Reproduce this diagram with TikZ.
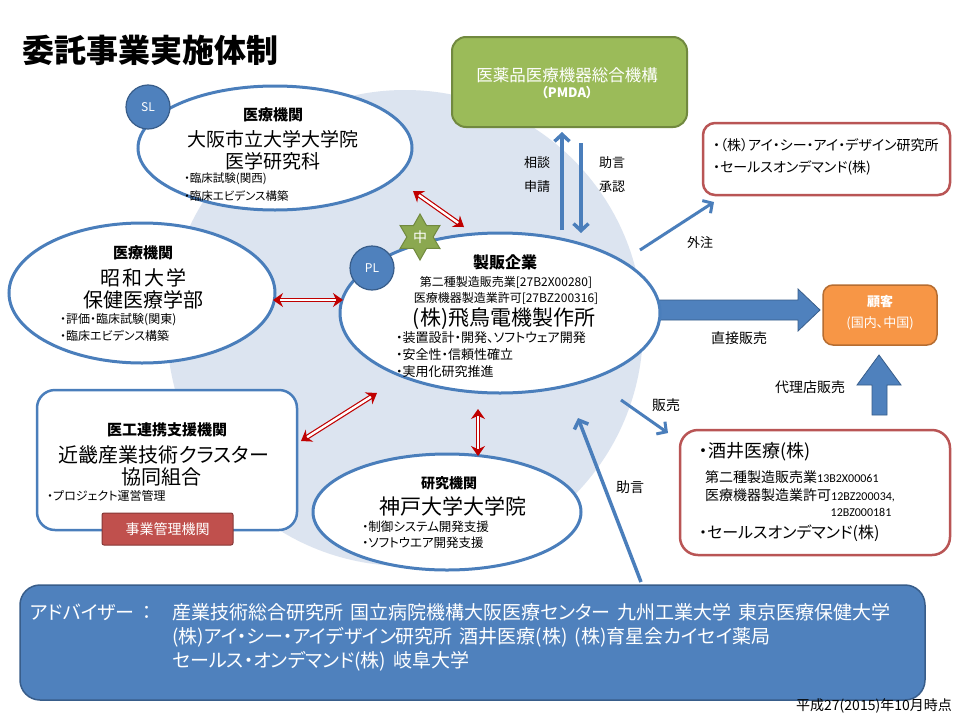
\documentclass[tikz,border=0pt]{standalone}
\usepackage{fontspec}
\setmainfont{Noto Sans CJK JP}[RawFeature=+palt]
\newfontfamily\latinf{Carlito}
\usetikzlibrary{arrows.meta,shapes.geometric}
\definecolor{bgblue}{RGB}{220,228,240}
\definecolor{lineblue}{RGB}{74,126,187}
\definecolor{fillblue}{RGB}{79,129,189}
\definecolor{darkblue}{RGB}{56,93,138}
\definecolor{pgreen}{RGB}{155,187,89}
\definecolor{dgreen}{RGB}{113,137,63}
\definecolor{porange}{RGB}{247,150,70}
\definecolor{dorange}{RGB}{182,109,49}
\definecolor{rose}{RGB}{185,85,85}
\definecolor{arrred}{RGB}{192,0,0}
\definecolor{boxred}{RGB}{192,80,77}
\newcommand\fsz[1]{\fontsize{#1}{#1}\selectfont}
\begin{document}
\begin{tikzpicture}[x=1pt,y=-1pt,
  ell/.style={ellipse, draw=lineblue, line width=3pt, fill=white, inner sep=0pt},
  rbox/.style={rectangle, rounded corners=#1, inner sep=0pt},
  rbox/.default=14pt,
  badge/.style={circle, fill=fillblue, draw=darkblue, line width=1.2pt, minimum size=44pt, inner sep=0pt, text=white, font=\fsz{12}},
  txt/.style={inner sep=0pt, anchor=center},
  ltxt/.style={inner sep=0pt, anchor=west},
  bluearr/.style={draw=lineblue, line width=3.5pt, -{Straight Barb[length=7pt,width=15pt]}},
  redarr/.style={draw=arrred, line width=1.2pt, double=white, double distance=2.4pt,
    {Stealth[length=10pt,width=14pt]}-{Stealth[length=10pt,width=14pt]}},
  blockarr/.style={fill=fillblue, draw=darkblue, line width=0.8pt}
]
\useasboundingbox (0,0) rectangle (960,720);
\fill[white] (0,0) rectangle (960,720);

% background disc
\fill[bgblue] (405,328) circle[radius=238pt];

% title
\node[ltxt] (title) at (22,50) {\fsz{32}\bfseries 委託事業実施体制};

% block arrows (under the ellipse)
\fill[blockarr] (650,300) -- (798,300) -- (798,289) -- (820,310) -- (798,331) -- (798,320) -- (650,320) -- cycle;
\fill[blockarr] (872,415) -- (872,385) -- (857,385) -- (879,355) -- (901,385) -- (887,385) -- (887,415) -- cycle;

% ellipses
\node[ell, minimum width=274pt, minimum height=124pt] (osaka) at (275,148) {};
\node[ell, minimum width=266pt, minimum height=140pt] (showa) at (142,293) {};
\node[ell, minimum width=320pt, minimum height=160pt] (main) at (500,313) {};
\node[ell, minimum width=268pt, minimum height=116pt] (kobe) at (447,512) {};

% Kinki box
\node[rbox=18pt, draw=lineblue, line width=2.5pt, fill=white, minimum width=260pt, minimum height=140pt] (kinki) at (167,460) {};
\node[rbox=2pt, fill=boxred, draw=boxred!70!black, line width=1pt, minimum width=131pt, minimum height=32pt, text=white] (jigyo) at (167.5,529) {\fsz{14}事業管理機関};

% PMDA
\node[rbox=14pt, fill=pgreen, draw=dgreen, line width=2pt, minimum width=235pt, minimum height=90pt] (pmda) at (569.5,82) {};
\node[txt, text=white] (pmda1) at (567,75) {\fsz{16.5}医薬品医療機器総合機構};
\node[txt, text=white] (pmda2) at (567,93) {\fsz{13}\bfseries （PMDA）};

% right boxes
\node[rbox=12pt, draw=rose, line width=2.5pt, fill=white, minimum width=247pt, minimum height=72pt] (outs) at (826.5,159) {};
\node[rbox=10pt, fill=porange, draw=dorange, line width=1.5pt, minimum width=114pt, minimum height=60pt] (cust) at (880,315) {};
\node[rbox=18pt, draw=rose, line width=2.5pt, fill=white, minimum width=270pt, minimum height=125pt] (sakai) at (815,492.5) {};

% advisor box
\node[rbox=20pt, fill=fillblue, draw=darkblue, line width=1.5pt, minimum width=905pt, minimum height=115pt] (adv) at (472.5,642.5) {};

% badges
\node[badge] (sl) at (148,107) {SL};
\node[badge] (pl) at (372,268) {PL};
\node[star, star points=6, star point ratio=1.75, fill=pgreen!90!black, draw=dgreen, line width=1pt, minimum size=46pt, inner sep=0pt, text=white] (naka) at (420,237) {\fsz{14}中};

% PMDA arrows
\coordinate (upA) at (562,230);
\coordinate (dnB) at (581,233);
\draw[bluearr, shorten >=4pt] (upA) -- (upA |- pmda.south);
\draw[bluearr, shorten <=15pt] (dnB |- pmda.south) -- (dnB);
\node[txt] (l1) at (537,163) {\fsz{13}相談};
\node[txt] (l2) at (537,187) {\fsz{13}申請};
\node[txt] (l3) at (612,163) {\fsz{13}助言};
\node[txt] (l4) at (612,187) {\fsz{13}承認};

% other blue arrows
\coordinate (go1) at (640,250);
\coordinate (go2) at (714,202);
\draw[bluearr, line width=3pt] (go1) -- (go2);
\node[txt] (lgai) at (700,243) {\fsz{13}外注};
\coordinate (ha1) at (621,400);
\coordinate (ha2) at (668,433);
\draw[bluearr, line width=3pt] (ha1) -- (ha2);
\node[txt] (lhan) at (666,405) {\fsz{14}販売};
\coordinate (jo1) at (641,582);
\coordinate (jo2) at (578,418);
\draw[bluearr] (jo1) -- (jo2);
\node[txt] (ljo) at (630,487) {\fsz{14}助言};
\node[txt] (lchoku) at (739,338) {\fsz{14}直接販売};
\node[txt] (ldairi) at (810,387) {\fsz{14}代理店販売};

% red double arrows
\coordinate (r1a) at (413,191); \coordinate (r1b) at (464,227);
\coordinate (r2a) at (273,300); \coordinate (r2b) at (343,300);
\coordinate (r3a) at (301,441); \coordinate (r3b) at (377,393);
\coordinate (r4a) at (478,409); \coordinate (r4b) at (478,456);
\draw[redarr] (r1a) -- (r1b);
\draw[redarr] (r2a) -- (r2b);
\draw[redarr] (r3a) -- (r3b);
\draw[redarr] (r4a) -- (r4b);

% Osaka text
\node[txt] (o1) at (273,115) {\fsz{15}\bfseries 医療機関};
\node[txt] (o2) at (273,139) {\fsz{19}大阪市立大学大学院};
\node[txt] (o3) at (273,161) {\fsz{19}医学研究科};
\node[ltxt] (o4) at (184,179) {\fsz{11.5}・臨床試験(関西)};
\node[ltxt] (o5) at (184,196) {\fsz{11.5}・臨床エビデンス構築};

% Showa text
\node[txt] (s1) at (143,253) {\fsz{15}\bfseries 医療機関};
\node[txt] (s2) at (143,278) {\fsz{20}\addfontfeature{LetterSpace=10}昭和大学};
\node[txt] (s3) at (143,300) {\fsz{20}保健医療学部};
\node[ltxt] (s4) at (60,320) {\fsz{12}・評価・臨床試験(関東)};
\node[ltxt] (s5) at (60,336) {\fsz{12}・臨床エビデンス構築};

% Main text
\node[txt] (m1) at (505,262) {\fsz{16}\bfseries 製販企業};
\node[txt] (m2) at (506,282) {\fsz{12}第二種製造販売業[27B2X00280]};
\node[txt] (m3) at (506,298) {\fsz{12}医療機器製造業許可[27BZ200316]};
\node[txt] (m4) at (504,319) {\fsz{21}(株)飛鳥電機製作所};
\node[ltxt] (m5) at (396,338) {\fsz{13}・装置設計・開発、ソフトウェア開発};
\node[ltxt] (m6) at (396,355) {\fsz{13}・安全性・信頼性確立};
\node[ltxt] (m7) at (396,372) {\fsz{13}・実用化研究推進};

% Kinki text
\node[txt] (k1) at (167,430) {\fsz{15}\bfseries 医工連携支援機関};
\node[txt] (k2) at (164,455) {\fsz{20}近畿産業技術クラスター};
\node[txt] (k3) at (161,477) {\fsz{20}協同組合};
\node[ltxt] (k4) at (47,496) {\fsz{12}・プロジェクト運営管理};

% Kobe text
\node[txt] (b1) at (449,483) {\fsz{14}\bfseries 研究機関};
\node[txt] (b2) at (453,507) {\fsz{21}神戸大学大学院};
\node[ltxt] (b3) at (362,527) {\fsz{12.5}・制御システム開発支援};
\node[ltxt] (b4) at (362,543) {\fsz{12.5}・ソフトウエア開発支援};

% outsource text
\node[ltxt] (t1) at (713,145) {\fsz{14}・（株）アイ・シー・アイ・デザイン研究所};
\node[ltxt] (t2) at (713,168) {\fsz{14}・セールスオンデマンド(株)};

% customer text
\node[txt, text=white] (c1) at (880,302) {\fsz{13}\bfseries 顧客};
\node[txt, text=white] (c2) at (880,323) {\fsz{13}(国内、中国)};

% Sakai text
\node[ltxt] (k5) at (699,452) {\fsz{18}・酒井医療(株)};
\node[ltxt] (k6) at (705,477) {\fsz{14}第二種製造販売業{\latinf\fsz{12}13B2X00061}};
\node[ltxt] (k7) at (705,495) {\fsz{14}医療機器製造業許可{\latinf\fsz{12}12BZ200034,}};
\node[txt] (k8) at (861,512) {\latinf\fsz{12}12BZ000181};
\node[ltxt] (k9) at (699,533) {\fsz{16}・セールスオンデマンド(株)};

% advisor text
\node[ltxt, text=white] (a0) at (30,612) {\fsz{19}アドバイザー\hspace{8pt}：};
\node[ltxt, text=white] (a1) at (172,612) {\fsz{19}産業技術総合研究所\hspace{7pt}国立病院機構大阪医療センター\hspace{7pt}九州工業大学\hspace{7pt}東京医療保健大学};
\node[ltxt, text=white] (a2) at (172,637) {\fsz{19}(株)アイ・シー・アイデザイン研究所\hspace{7pt}酒井医療(株)\hspace{7pt}(株)育星会カイセイ薬局};
\node[ltxt, text=white] (a3) at (172,661) {\fsz{19}セールス・オンデマンド(株)\hspace{7pt}岐阜大学};

% footnote
\node[inner sep=0pt, anchor=east] (foot) at (952,706) {\fsz{14}平成27(2015)年10月時点};
\end{tikzpicture}
\end{document}
